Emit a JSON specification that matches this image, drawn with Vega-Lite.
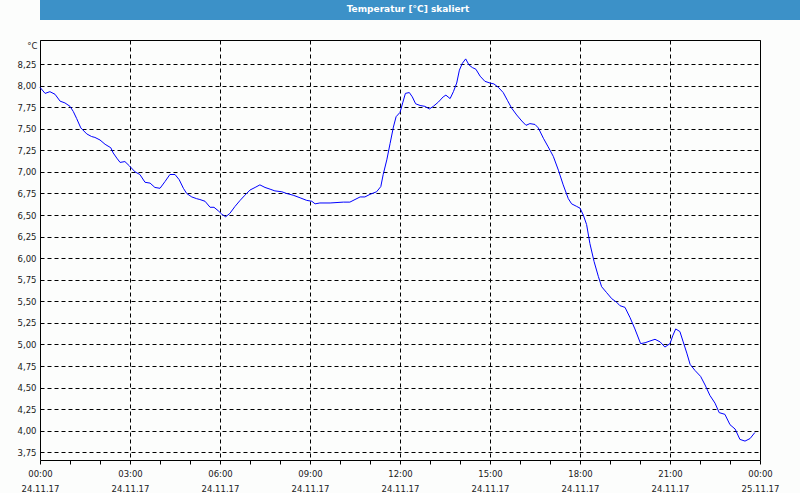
{
  "$schema": "https://vega.github.io/schema/vega-lite/v6.json",
  "background": "#fcfdfc",
  "padding": {"left": 16, "top": 0, "right": 0, "bottom": 0},
  "spacing": 19,
  "datasets": {
    "title": [{"label": "Temperatur [°C] skaliert"}],
    "temp": [
      {"hour": 0.00, "temp": 7.98}, {"hour": 0.17, "temp": 7.91}, {"hour": 0.33, "temp": 7.93}, {"hour": 0.50, "temp": 7.90},
      {"hour": 0.67, "temp": 7.82}, {"hour": 0.83, "temp": 7.80}, {"hour": 1.00, "temp": 7.76}, {"hour": 1.11, "temp": 7.70},
      {"hour": 1.22, "temp": 7.62}, {"hour": 1.36, "temp": 7.51}, {"hour": 1.56, "temp": 7.44}, {"hour": 1.72, "temp": 7.41},
      {"hour": 1.83, "temp": 7.40}, {"hour": 2.00, "temp": 7.37}, {"hour": 2.17, "temp": 7.32}, {"hour": 2.36, "temp": 7.28},
      {"hour": 2.44, "temp": 7.22}, {"hour": 2.56, "temp": 7.16}, {"hour": 2.67, "temp": 7.11}, {"hour": 2.83, "temp": 7.12},
      {"hour": 2.98, "temp": 7.07}, {"hour": 3.17, "temp": 7.00}, {"hour": 3.33, "temp": 6.97}, {"hour": 3.50, "temp": 6.88},
      {"hour": 3.67, "temp": 6.87}, {"hour": 3.83, "temp": 6.82}, {"hour": 4.00, "temp": 6.81}, {"hour": 4.17, "temp": 6.89},
      {"hour": 4.33, "temp": 6.97}, {"hour": 4.50, "temp": 6.97}, {"hour": 4.64, "temp": 6.91}, {"hour": 4.78, "temp": 6.81},
      {"hour": 4.89, "temp": 6.75}, {"hour": 5.06, "temp": 6.71}, {"hour": 5.22, "temp": 6.69}, {"hour": 5.33, "temp": 6.68},
      {"hour": 5.50, "temp": 6.66}, {"hour": 5.67, "temp": 6.59}, {"hour": 5.80, "temp": 6.59}, {"hour": 5.94, "temp": 6.55},
      {"hour": 6.06, "temp": 6.51}, {"hour": 6.19, "temp": 6.48}, {"hour": 6.33, "temp": 6.52}, {"hour": 6.50, "temp": 6.60},
      {"hour": 6.67, "temp": 6.67}, {"hour": 6.83, "temp": 6.73}, {"hour": 7.00, "temp": 6.79}, {"hour": 7.17, "temp": 6.82},
      {"hour": 7.33, "temp": 6.85}, {"hour": 7.50, "temp": 6.82}, {"hour": 7.67, "temp": 6.80}, {"hour": 7.83, "temp": 6.78},
      {"hour": 8.06, "temp": 6.77}, {"hour": 8.22, "temp": 6.75}, {"hour": 8.44, "temp": 6.73}, {"hour": 8.67, "temp": 6.70},
      {"hour": 8.89, "temp": 6.67}, {"hour": 9.06, "temp": 6.66}, {"hour": 9.17, "temp": 6.63}, {"hour": 9.33, "temp": 6.64},
      {"hour": 9.67, "temp": 6.64}, {"hour": 10.11, "temp": 6.65}, {"hour": 10.33, "temp": 6.65}, {"hour": 10.50, "temp": 6.68},
      {"hour": 10.67, "temp": 6.71}, {"hour": 10.83, "temp": 6.71}, {"hour": 11.00, "temp": 6.74}, {"hour": 11.22, "temp": 6.77},
      {"hour": 11.36, "temp": 6.83}, {"hour": 11.44, "temp": 6.97}, {"hour": 11.56, "temp": 7.14}, {"hour": 11.67, "temp": 7.33},
      {"hour": 11.78, "temp": 7.52}, {"hour": 11.87, "temp": 7.64}, {"hour": 12.00, "temp": 7.69}, {"hour": 12.09, "temp": 7.80},
      {"hour": 12.18, "temp": 7.91}, {"hour": 12.31, "temp": 7.92}, {"hour": 12.41, "temp": 7.87}, {"hour": 12.52, "temp": 7.79},
      {"hour": 12.67, "temp": 7.77}, {"hour": 12.83, "temp": 7.76}, {"hour": 12.98, "temp": 7.73}, {"hour": 13.11, "temp": 7.76},
      {"hour": 13.28, "temp": 7.81}, {"hour": 13.44, "temp": 7.87}, {"hour": 13.53, "temp": 7.89}, {"hour": 13.67, "temp": 7.85},
      {"hour": 13.78, "temp": 7.93}, {"hour": 13.89, "temp": 8.03}, {"hour": 13.98, "temp": 8.18}, {"hour": 14.08, "temp": 8.26},
      {"hour": 14.19, "temp": 8.31}, {"hour": 14.30, "temp": 8.24}, {"hour": 14.41, "temp": 8.21}, {"hour": 14.53, "temp": 8.19},
      {"hour": 14.67, "temp": 8.11}, {"hour": 14.83, "temp": 8.05}, {"hour": 15.00, "temp": 8.03}, {"hour": 15.13, "temp": 8.02},
      {"hour": 15.28, "temp": 7.98}, {"hour": 15.44, "temp": 7.92}, {"hour": 15.58, "temp": 7.83}, {"hour": 15.72, "temp": 7.74},
      {"hour": 15.89, "temp": 7.66}, {"hour": 16.06, "temp": 7.59}, {"hour": 16.20, "temp": 7.54}, {"hour": 16.33, "temp": 7.56},
      {"hour": 16.50, "temp": 7.55}, {"hour": 16.61, "temp": 7.51}, {"hour": 16.78, "temp": 7.39}, {"hour": 16.94, "temp": 7.29},
      {"hour": 17.11, "temp": 7.18}, {"hour": 17.28, "temp": 7.02}, {"hour": 17.44, "temp": 6.85}, {"hour": 17.61, "temp": 6.69},
      {"hour": 17.72, "temp": 6.63}, {"hour": 17.89, "temp": 6.60}, {"hour": 18.00, "temp": 6.58}, {"hour": 18.11, "temp": 6.50},
      {"hour": 18.22, "temp": 6.39}, {"hour": 18.33, "temp": 6.17}, {"hour": 18.47, "temp": 5.96}, {"hour": 18.61, "temp": 5.79},
      {"hour": 18.72, "temp": 5.67}, {"hour": 18.89, "temp": 5.60}, {"hour": 19.06, "temp": 5.53}, {"hour": 19.22, "temp": 5.49},
      {"hour": 19.33, "temp": 5.45}, {"hour": 19.50, "temp": 5.43}, {"hour": 19.67, "temp": 5.31}, {"hour": 19.83, "temp": 5.18},
      {"hour": 20.02, "temp": 5.01}, {"hour": 20.17, "temp": 5.02}, {"hour": 20.33, "temp": 5.04}, {"hour": 20.50, "temp": 5.06},
      {"hour": 20.67, "temp": 5.03}, {"hour": 20.83, "temp": 4.97}, {"hour": 21.00, "temp": 5.01}, {"hour": 21.09, "temp": 5.10},
      {"hour": 21.19, "temp": 5.18}, {"hour": 21.33, "temp": 5.15}, {"hour": 21.44, "temp": 5.03}, {"hour": 21.56, "temp": 4.90},
      {"hour": 21.67, "temp": 4.77}, {"hour": 21.83, "temp": 4.70}, {"hour": 22.02, "temp": 4.63}, {"hour": 22.17, "temp": 4.53},
      {"hour": 22.33, "temp": 4.41}, {"hour": 22.50, "temp": 4.32}, {"hour": 22.64, "temp": 4.21}, {"hour": 22.83, "temp": 4.19},
      {"hour": 23.00, "temp": 4.07}, {"hour": 23.17, "temp": 4.02}, {"hour": 23.33, "temp": 3.90}, {"hour": 23.50, "temp": 3.88},
      {"hour": 23.67, "temp": 3.91}, {"hour": 23.83, "temp": 3.98}
    ]
  },
  "vconcat": [
    {
      "data": {"name": "title"},
      "width": 760,
      "height": 20,
      "view": {"fill": "#3c91c8", "stroke": null},
      "mark": {"type": "text", "color": "white", "font": "DejaVu Sans", "fontWeight": "bold", "fontSize": 9, "dx": -12, "dy": -1, "baseline": "middle", "align": "center"},
      "encoding": {
        "text": {"field": "label"}
      }
    },
    {
      "data": {"name": "temp"},
      "width": 720,
      "height": 420,
      "view": {"stroke": "black", "strokeWidth": 1},
      "mark": {"type": "line", "color": "#0000ff", "strokeWidth": 1},
      "encoding": {
        "x": {
          "field": "hour",
          "type": "quantitative",
          "scale": {"domain": [0, 24], "nice": false, "zero": false},
          "axis": {
            "title": null,
            "values": [0, 1, 2, 3, 4, 5, 6, 7, 8, 9, 10, 11, 12, 13, 14, 15, 16, 17, 18, 19, 20, 21, 22, 23, 24],
            "domain": false,
            "ticks": true,
            "tickColor": "black",
            "tickSize": 4,
            "grid": true,
            "gridColor": "black",
            "gridDash": [4, 3],
            "gridOpacity": {"condition": {"test": "datum.value % 3 == 0", "value": 1}, "value": 0},
            "labelExpr": "datum.value % 3 == 0 ? [(datum.value % 24 < 10 ? '0' : '') + (datum.value % 24) + ':00', datum.value == 24 ? '25.11.17' : '24.11.17'] : ''",
            "labelOverlap": false,
            "labelFlush": false,
            "labelBound": false,
            "labelPadding": 5,
            "labelLineHeight": 15,
            "labelFont": "DejaVu Sans",
            "labelFontSize": 8.5,
            "labelColor": "#1a1a1a",
            "labelAlign": "center",
            "labelBaseline": "top"
          }
        },
        "y": {
          "field": "temp",
          "type": "quantitative",
          "scale": {"domain": [3.661, 8.529], "nice": false, "zero": false},
          "axis": {
            "values": [3.75, 4, 4.25, 4.5, 4.75, 5, 5.25, 5.5, 5.75, 6, 6.25, 6.5, 6.75, 7, 7.25, 7.5, 7.75, 8, 8.25],
            "labelExpr": "replace(format(datum.value, '.2f'), '.', ',')",
            "domain": false,
            "ticks": false,
            "grid": true,
            "gridColor": "black",
            "gridDash": [4, 3],
            "labelPadding": 4,
            "labelFont": "DejaVu Sans",
            "labelFontSize": 8.5,
            "labelColor": "#1a1a1a",
            "title": "°C",
            "titleAngle": 0,
            "titleAlign": "right",
            "titleBaseline": "middle",
            "titleX": -3,
            "titleY": 5,
            "titleFont": "DejaVu Sans",
            "titleFontSize": 8.5,
            "titleFontWeight": "normal",
            "titleColor": "#1a1a1a"
          }
        }
      }
    }
  ]
}
